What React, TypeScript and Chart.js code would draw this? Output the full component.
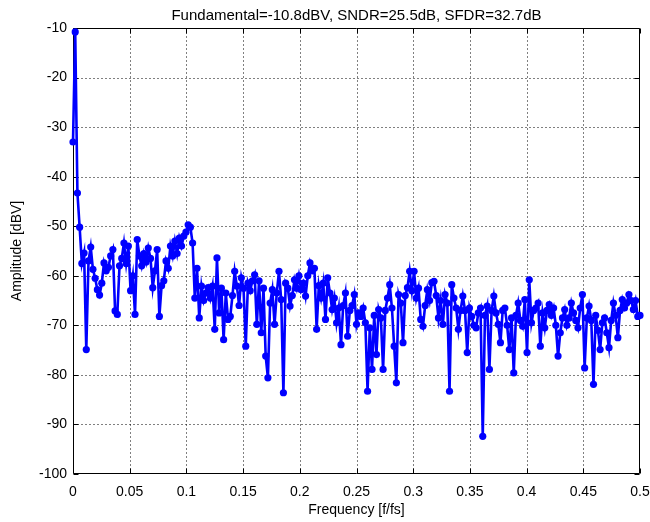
import { useEffect, useRef } from "react";
import { Chart, registerables } from "chart.js";

Chart.register(...registerables);

// FFT bin count (frequency of bin k = k / FFT_SIZE)
const FFT_SIZE = 512;

// Amplitude of each bin, dBV (bins 0..256)
const amplitudeDbv: number[] = [
  -33, -10.8, -43.3, -50.2, -57.5, -55.4, -74.9, -57, -54.2, -58.7,
  -60.5, -62.8, -63.9, -61.5, -57.4, -59, -58.3, -56, -54.7, -67.1,
  -67.8, -58, -56.5, -53.4, -57.5, -54, -63, -60, -67.8, -52.7,
  -56, -58, -55.5, -57.2, -54.4, -56.5, -62.4, -59, -54.7, -68.2,
  -62, -61, -57, -58.5, -54, -56, -53, -55.5, -52.4, -54,
  -52, -51.2, -49.7, -50.2, -53.4, -64.5, -58.5, -68.5, -62.1, -65,
  -63.5, -62.4, -64.5, -62.1, -70.8, -56.4, -67.5, -62.5, -72.9, -63.5,
  -68.8, -68.2, -64, -59.1, -62.1, -66, -60.4, -62.5, -74.2, -61.5,
  -63, -61, -59.8, -69.8, -61, -71.5, -62.5, -76.2, -80.6, -65.5,
  -62.8, -69.8, -63.5, -59.1, -64.8, -83.6, -61.5, -62.5, -66.1, -64,
  -60.8, -62.5, -60, -62.8, -61.5, -64.1, -60, -57.4, -59, -58.5,
  -70.8, -62, -64.5, -61.5, -68.8, -60.4, -63.5, -66.8, -64.5, -69.5,
  -66.5, -73.9, -66, -63.5, -72.2, -67, -66, -63.8, -69.8, -67.5,
  -68.2, -66.5, -69.5, -83.3, -70.5, -78.9, -68, -75.9, -66.8, -68.5,
  -78.9, -67, -64.5, -61.8, -66.5, -74.2, -81.6, -63.8, -65.5, -73.5,
  -64, -62.4, -59.1, -63, -59.1, -64.5, -62.5, -68.8, -70.2, -66,
  -62.8, -65, -61.4, -61.1, -64, -68.5, -65, -69.8, -63.8, -65.5,
  -83.3, -61.8, -64.5, -66.5, -70.8, -67, -64.1, -67, -75.5, -66.5,
  -68.2, -70, -70.5, -67.5, -66.5, -92.4, -68, -66.1, -78.9, -67,
  -64.1, -67.5, -69.8, -73.5, -67, -66.5, -70, -74.9, -68.5, -79.6,
  -68, -65.5, -69, -70.2, -64.8, -75.5, -60.8, -69.5, -67, -66.5,
  -65.5, -74.2, -67.5, -70.5, -67, -65.8, -68, -66.5, -70, -76.2,
  -71.5, -68.5, -66.8, -70, -68.5, -65.5, -67.5, -69, -70.5, -66.5,
  -63.8, -78.6, -68.5, -66.1, -69, -81.9, -68, -71, -74.9, -69.5,
  -68.5, -71.5, -74.5, -69, -65.5, -68, -72.5, -67, -64.8, -66.5,
  -65.5, -63.8, -65, -66.8, -65, -68.2, -68,
];

const xTicks = [0, 0.05, 0.1, 0.15, 0.2, 0.25, 0.3, 0.35, 0.4, 0.45, 0.5];
const xTickLabels = ["0", "0.05", "0.1", "0.15", "0.2", "0.25", "0.3", "0.35", "0.4", "0.45", "0.5"];
const yTicks = [-10, -20, -30, -40, -50, -60, -70, -80, -90, -100];
const yTickLabels = ["-10", "-20", "-30", "-40", "-50", "-60", "-70", "-80", "-90", "-100"];

const titleText = "Fundamental=-10.8dBV, SNDR=25.5dB, SFDR=32.7dB";
const xTitle = "Frequency [f/fs]";
const yTitle = "Amplitude [dBV]";

const FONT = "'Liberation Sans', Arial, Helvetica, sans-serif";

const framePlugin = {
  id: "matlabFrame",
  beforeDatasetsDraw(chart: any) {
    const { ctx, chartArea: a, scales } = chart;
    const x = scales.x;
    const y = scales.y;
    const L = Math.round(a.left) + 0.5;
    const R = Math.round(a.right) - 0.5;
    const T = Math.round(a.top) + 0.5;
    const B = Math.round(a.bottom) - 0.5;
    ctx.save();
    ctx.strokeStyle = "#000";
    ctx.lineWidth = 1;
    ctx.setLineDash([1, 3]);
    ctx.beginPath();
    for (const v of xTicks.slice(1, -1)) {
      const px = Math.round(x.getPixelForValue(v)) + 0.5;
      ctx.moveTo(px, T);
      ctx.lineTo(px, B);
    }
    for (const v of yTicks.slice(1, -1)) {
      const py = Math.round(y.getPixelForValue(v)) + 0.5;
      ctx.moveTo(L, py);
      ctx.lineTo(R, py);
    }
    ctx.stroke();
    ctx.setLineDash([]);
    ctx.beginPath();
    ctx.rect(L, T, R - L, B - T);
    const tl = 5;
    for (const v of xTicks) {
      const px = Math.round(x.getPixelForValue(v)) + 0.5;
      ctx.moveTo(px, B);
      ctx.lineTo(px, B - tl);
      ctx.moveTo(px, T);
      ctx.lineTo(px, T + tl);
    }
    for (const v of yTicks) {
      const py = Math.round(y.getPixelForValue(v)) + 0.5;
      ctx.moveTo(L, py);
      ctx.lineTo(L + tl, py);
      ctx.moveTo(R, py);
      ctx.lineTo(R - tl, py);
    }
    ctx.stroke();
    ctx.restore();
  },
  afterDraw(chart: any) {
    const { ctx, chartArea: a } = chart;
    ctx.save();
    ctx.fillStyle = "#000";
    ctx.font = `15px ${FONT}`;
    ctx.textAlign = "center";
    ctx.textBaseline = "middle";
    ctx.fillText(titleText, (a.left + a.right) / 2, 16);
    ctx.restore();
  },
};

export default function App() {
  const canvasRef = useRef<HTMLCanvasElement | null>(null);

  useEffect(() => {
    if (!canvasRef.current) return;
    const points = amplitudeDbv.map((v, k) => ({ x: k / FFT_SIZE, y: v }));
    const chart = new Chart(canvasRef.current, {
      type: "line",
      data: {
        datasets: [
          {
            data: points,
            borderColor: "#0000ff",
            backgroundColor: "#0000ff",
            borderWidth: 2.6,
            pointRadius: 3.6,
            pointHoverRadius: 3.6,
            pointBorderWidth: 0,
            pointBackgroundColor: "#0000ff",
            tension: 0,
            clip: false as any,
          },
        ],
      },
      options: {
        animation: false,
        responsive: false,
        events: [],
        layout: { padding: { left: 0, right: 0, top: 28, bottom: 0 } },
        plugins: {
          legend: { display: false },
          title: { display: false },
          tooltip: { enabled: false },
        },
        scales: {
          x: {
            type: "linear",
            min: 0,
            max: 0.5,
            grid: { display: false, drawTicks: false },
            border: { display: false },
            afterFit: (s: any) => {
              s.height = 48;
              s.paddingLeft = 0;
              s.paddingRight = 10;
            },
            afterBuildTicks: (s: any) => {
              s.ticks = xTicks.map((v) => ({ value: v }));
            },
            ticks: {
              color: "#000",
              font: { family: FONT, size: 14 },
              padding: 10,
              maxRotation: 0,
              autoSkip: false,
              callback: (_v: any, i: number) => xTickLabels[i],
            },
            title: {
              display: true,
              text: xTitle,
              color: "#000",
              font: { family: FONT, size: 14 },
              padding: { top: 0, bottom: 3 },
            },
          },
          y: {
            type: "linear",
            min: -100,
            max: -10,
            grid: { display: false, drawTicks: false },
            border: { display: false },
            afterFit: (s: any) => {
              s.width = 73;
              s.paddingTop = 0;
              s.paddingBottom = 0;
            },
            afterBuildTicks: (s: any) => {
              s.ticks = yTicks.map((v) => ({ value: v }));
            },
            ticks: {
              color: "#000",
              font: { family: FONT, size: 14 },
              padding: 6,
              autoSkip: false,
              callback: (_v: any, i: number) => yTickLabels[i],
            },
            title: {
              display: true,
              text: yTitle,
              color: "#000",
              font: { family: FONT, size: 14 },
              padding: { top: 9, bottom: 0 },
            },
          },
        },
      },
      plugins: [framePlugin],
    });
    return () => chart.destroy();
  }, []);

  return (
    <div style={{ position: "fixed", left: 0, top: 0, width: 650, height: 522, background: "#fff" }}>
      <canvas ref={canvasRef} width={650} height={522} style={{ display: "block" }} />
    </div>
  );
}
